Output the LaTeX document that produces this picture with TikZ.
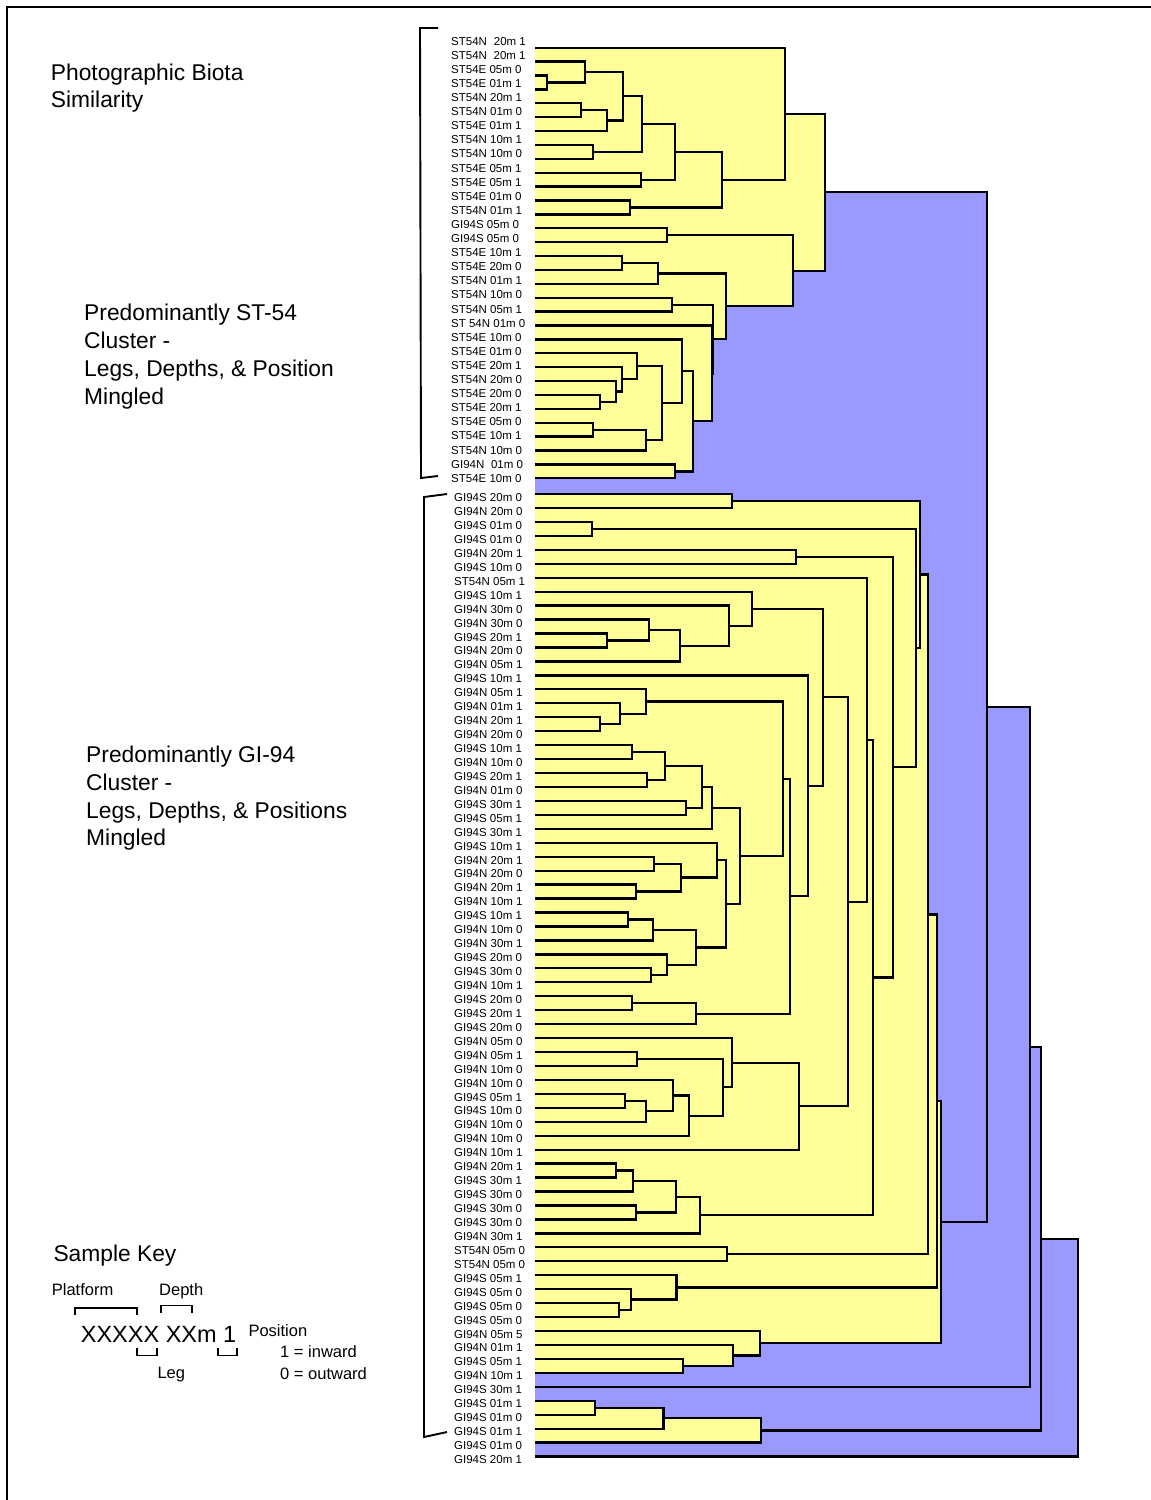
\documentclass[tikz,border=0pt]{standalone}
\usepackage{fontspec}
\setmainfont{Liberation Sans}
\usetikzlibrary{calc}
\pgfdeclarelayer{bgwhite}
\pgfdeclarelayer{blue}
\pgfdeclarelayer{yel}
\pgfsetlayers{bgwhite,blue,yel,main}
\definecolor{cyel}{HTML}{FFFF99}
\definecolor{cblue}{HTML}{9999FF}
\newcommand\dn[5]{%
  \path let \p1=(#3), \p2=(#4) in coordinate (#1) at (#2pt,{0.5*\y1+0.5*\y2});
  \begin{pgfonlayer}{#5}\fill[#5fill] (#3 -| x0) rectangle (#4 -| #1);\end{pgfonlayer}
  \draw[dline] (#3) -- (#3 -| #1) -- (#4 -| #1) -- (#4);
}
\begin{document}
\begin{tikzpicture}[x=1pt,y=1pt,
  dline/.style={line width=2.3pt,black,line join=miter},
  yelfill/.style={fill=cyel},
  bluefill/.style={fill=cblue},
  lab/.style={anchor=west,inner sep=0pt,font=\fontsize{11.5}{12}\selectfont,text height=8.2pt,text depth=0pt},
  head/.style={anchor=base west,inner sep=0pt,font=\fontsize{22.8}{27}\selectfont},
  keybig/.style={anchor=base west,inner sep=0pt,font=\fontsize{23.5}{27}\selectfont},
  keysmall/.style={anchor=base west,inner sep=0pt,font=\fontsize{16.5}{19}\selectfont},
  brk/.style={line width=1.9pt,black,line join=miter}]
\begin{pgfonlayer}{bgwhite}
\fill[white] (0,0) rectangle (1151,-1500);
\end{pgfonlayer}
\useasboundingbox (0,0) rectangle (1151,-1500);
\draw[line width=1.8pt] (7,-1500) -- (7,-7) -- (1151,-7);
\coordinate (x0) at (535,0);
% leaves
\foreach \i in {0,...,31} \coordinate (s\i) at (535,{-47.7-13.89*\i});
\foreach \i in {0,...,69} \coordinate (q\i) at (535,{-494-13.95*\i});
% top cluster
\dn{tA}{546.7}{s2}{s3}{yel}
\dn{tB}{585}{s1}{tA}{yel}
\dn{tC}{581}{s4}{s5}{yel}
\dn{tD}{607}{tC}{s6}{yel}
\dn{tE}{623.3}{tB}{tD}{yel}
\dn{tF}{593.3}{s7}{s8}{yel}
\dn{tG}{642.3}{tE}{tF}{yel}
\dn{tH}{640.7}{s9}{s10}{yel}
\dn{tI}{675.3}{tG}{tH}{yel}
\dn{tJ}{630}{s11}{s12}{yel}
\dn{tK}{722.3}{tI}{tJ}{yel}
\dn{tL}{785}{s0}{tK}{yel}
\dn{tM}{666.7}{s13}{s14}{yel}
\dn{tN}{621.7}{s15}{s16}{yel}
\dn{tO}{658.3}{tN}{s17}{yel}
\dn{tP}{672}{s18}{s19}{yel}
\dn{tT}{600}{s25}{s26}{yel}
\dn{tU}{616}{s24}{tT}{yel}
\dn{tV}{621.7}{s23}{tU}{yel}
\dn{tW}{636.7}{s22}{tV}{yel}
\dn{tX}{593.3}{s27}{s28}{yel}
\dn{tY}{645.7}{tX}{s29}{yel}
\dn{tZ}{661.7}{tW}{tY}{yel}
\dn{tAA}{681.7}{s21}{tZ}{yel}
\dn{tAB}{675}{s30}{s31}{yel}
\dn{tAC}{693.3}{tAA}{tAB}{yel}
\dn{tAD}{711.7}{s20}{tAC}{yel}
\dn{tAE}{713.3}{tP}{tAD}{yel}
\dn{tAF}{726}{tO}{tAE}{yel}
\dn{tAG}{792.7}{tM}{tAF}{yel}
\dn{tAH}{825}{tL}{tAG}{yel}
% GI cluster
\dn{n1}{731.7}{q0}{q1}{yel}
\dn{n2}{591.7}{q2}{q3}{yel}
\dn{n3}{796}{q4}{q5}{yel}
\dn{n7}{607.3}{q10}{q11}{yel}
\dn{n8}{649.3}{q9}{n7}{yel}
\dn{n6}{680}{n8}{q12}{yel}
\dn{n5}{729.3}{q8}{n6}{yel}
\dn{n4}{752.3}{q7}{n5}{yel}
\dn{n9}{600}{q16}{q17}{yel}
\dn{n10}{620}{q15}{n9}{yel}
\dn{n11}{646}{q14}{n10}{yel}
\dn{n12}{631.7}{q18}{q19}{yel}
\dn{n13}{647.3}{q20}{q21}{yel}
\dn{n14}{665}{n12}{n13}{yel}
\dn{n15}{686}{q22}{q23}{yel}
\dn{n16}{701.7}{n14}{n15}{yel}
\dn{n17}{712.3}{n16}{q24}{yel}
\dn{n18}{654.3}{q26}{q27}{yel}
\dn{n19}{635.7}{q28}{q29}{yel}
\dn{n20}{680.7}{n18}{n19}{yel}
\dn{n21}{717.3}{q25}{n20}{yel}
\dn{n22}{628.3}{q30}{q31}{yel}
\dn{n23}{652.7}{n22}{q32}{yel}
\dn{n24}{651}{q34}{q35}{yel}
\dn{n25}{666.7}{q33}{n24}{yel}
\dn{n26}{696}{n23}{n25}{yel}
\dn{n27}{725.7}{n21}{n26}{yel}
\dn{n28}{740}{n17}{n27}{yel}
\dn{n29}{783.3}{n11}{n28}{yel}
\dn{n30}{631.7}{q36}{q37}{yel}
\dn{n31}{696}{n30}{q38}{yel}
\dn{n32}{790}{n29}{n31}{yel}
\dn{n33}{808}{q13}{n32}{yel}
\dn{n34}{823.3}{n4}{n33}{yel}
\dn{n39}{637.3}{q40}{q41}{yel}
\dn{n40}{625}{q43}{q44}{yel}
\dn{n41}{646}{n40}{q45}{yel}
\dn{n42}{673.3}{q42}{n41}{yel}
\dn{n43}{689.3}{n42}{q46}{yel}
\dn{n44}{722.7}{n39}{n43}{yel}
\dn{n45}{731.7}{q39}{n44}{yel}
\dn{n46}{799.3}{n45}{q47}{yel}
\dn{n35}{848.3}{n34}{n46}{yel}
\dn{n36}{867.3}{q6}{n35}{yel}
\dn{n47}{616}{q48}{q49}{yel}
\dn{n48}{633.3}{n47}{q50}{yel}
\dn{n49}{635.7}{q51}{q52}{yel}
\dn{n50}{675.7}{n48}{n49}{yel}
\dn{n51}{700}{n50}{q53}{yel}
\dn{n37}{872.7}{n36}{n51}{yel}
\dn{n38}{893.3}{n3}{n37}{yel}
\dn{n916}{916}{n2}{n38}{yel}
\dn{n920}{920}{n1}{n916}{yel}
\dn{n52}{727.3}{q54}{q55}{yel}
\dn{n928}{928.3}{n920}{n52}{yel}
\dn{n53}{618.7}{q58}{q59}{yel}
\dn{n54}{630.9}{q57}{n53}{yel}
\dn{n55}{676.5}{q56}{n54}{yel}
\dn{n936}{936.7}{n928}{n55}{yel}
\dn{n56}{683}{q62}{q63}{yel}
\dn{n57}{733}{q61}{n56}{yel}
\dn{n58}{760}{q60}{n57}{yel}
\dn{n940}{940.9}{n936}{n58}{yel}
\dn{n59}{595}{q65}{q66}{yel}
\dn{n60}{663.5}{n59}{q67}{yel}
\dn{n61}{761}{n60}{q68}{yel}
% root chain
\dn{r1}{987}{tAH}{n940}{blue}
\dn{r2}{1030}{r1}{q64}{blue}
\dn{r3}{1041}{r2}{n61}{blue}
\dn{r4}{1078}{r3}{q69}{blue}
% leaf labels
\foreach \t [count=\i from 0] in {ST54N\hspace{0.6em}20m 1,ST54N\hspace{0.3em} 20m 1,ST54E 05m 0,ST54E 01m 1,ST54N 20m 1,ST54N 01m 0,ST54E 01m 1,ST54N 10m 1,ST54N 10m 0,ST54E 05m 1,ST54E 05m 1,ST54E 01m 0,ST54N 01m 1,GI94S 05m 0,GI94S 05m 0,ST54E 10m 1,ST54E 20m 0,ST54N 01m 1,ST54N 10m 0,ST54N 05m 1,ST 54N 01m 0,ST54E 10m 0,ST54E 01m 0,ST54E 20m 1,ST54N 20m 0,ST54E 20m 0,ST54E 20m 1,ST54E 05m 0,ST54E 10m 1,ST54N 10m 0,GI94N\hspace{0.3em} 01m 0,ST54E 10m 0}
  \node[lab] (ls\i) at (451,{-41-14.1*\i}) {\t};
\foreach \t [count=\i from 0] in {GI94S 20m 0,GI94N 20m 0,GI94S 01m 0,GI94S 01m 0,GI94N 20m 1,GI94S 10m 0,ST54N 05m 1,GI94S 10m 1,GI94N 30m 0,GI94N 30m 0,GI94S 20m 1,GI94N 20m 0,GI94N 05m 1,GI94S 10m 1,GI94N 05m 1,GI94N 01m 1,GI94N 20m 1,GI94N 20m 0,GI94S 10m 1,GI94N 10m 0,GI94S 20m 1,GI94N 01m 0,GI94S 30m 1,GI94S 05m 1,GI94S 30m 1,GI94S 10m 1,GI94N 20m 1,GI94N 20m 0,GI94N 20m 1,GI94N 10m 1,GI94S 10m 1,GI94N 10m 0,GI94N 30m 1,GI94S 20m 0,GI94S 30m 0,GI94N 10m 1,GI94S 20m 0,GI94S 20m 1,GI94S 20m 0,GI94N 05m 0,GI94N 05m 1,GI94N 10m 0,GI94N 10m 0,GI94S 05m 1,GI94S 10m 0,GI94N 10m 0,GI94N 10m 0,GI94N 10m 1,GI94N 20m 1,GI94S 30m 1,GI94S 30m 0,GI94S 30m 0,GI94S 30m 0,GI94N 30m 1,ST54N 05m 0,ST54N 05m 0,GI94S 05m 1,GI94S 05m 0,GI94S 05m 0,GI94S 05m 0,GI94N 05m 5,GI94N 01m 1,GI94S 05m 1,GI94N 10m 1,GI94S 30m 1,GI94S 01m 1,GI94S 01m 0,GI94S 01m 1,GI94S 01m 0,GI94S 20m 1}
  \node[lab] (lq\i) at (454,{-497.5-13.94*\i}) {\t};
% cluster brackets
\draw[brk] (438,-28) -- (420,-28) -- (421,-478) -- (438,-476);
\draw[brk] (447,-494) -- (424,-497) -- (424,-1437) -- (447,-1432);
% headings
\node[head] (h1) at (50.7,-80) {Photographic Biota};
\node[head] (h2) at (50.7,-107.5) {Similarity};
\node[head] (a1) at (84,-320) {Predominantly ST-54};
\node[head] (a2) at (84,-348) {Cluster -};
\node[head] (a3) at (84,-376) {Legs, Depths, \& Position};
\node[head] (a4) at (84,-404) {Mingled};
\node[head] (b1) at (86,-762) {Predominantly GI-94};
\node[head] (b2) at (86,-790) {Cluster -};
\node[head] (b3) at (86,-818) {Legs, Depths, \& Positions};
\node[head] (b4) at (86,-845.5) {Mingled};
% sample key
\node[head] (k0) at (53.3,-1261.7) {Sample Key};
\node[keysmall] (k1) at (51.7,-1295) {Platform};
\node[keysmall] (k2) at (159,-1295) {Depth};
\node[keybig] (k3) at (80.7,-1342.3) {XXXXX XXm 1};
\node[keysmall] (k4) at (248.3,-1336.7) {Position};
\node[keysmall] (k5) at (280,-1357) {1 = inward};
\node[keysmall] (k6) at (280,-1379) {0 = outward};
\node[keysmall] (k7) at (157.3,-1378.3) {Leg};
\draw[brk] (75,-1315) -- (75,-1308) -- (136.7,-1308) -- (136.7,-1315);
\draw[brk] (160.7,-1313.3) -- (160.7,-1305.5) -- (191.7,-1305.5) -- (191.7,-1313.3);
\draw[brk] (136.7,-1347.5) -- (136.7,-1355.5) -- (156.7,-1355.5) -- (156.7,-1347.5);
\draw[brk] (217.7,-1348) -- (217.7,-1355.5) -- (237.3,-1355.5) -- (237.3,-1348);
\end{tikzpicture}
\end{document}
